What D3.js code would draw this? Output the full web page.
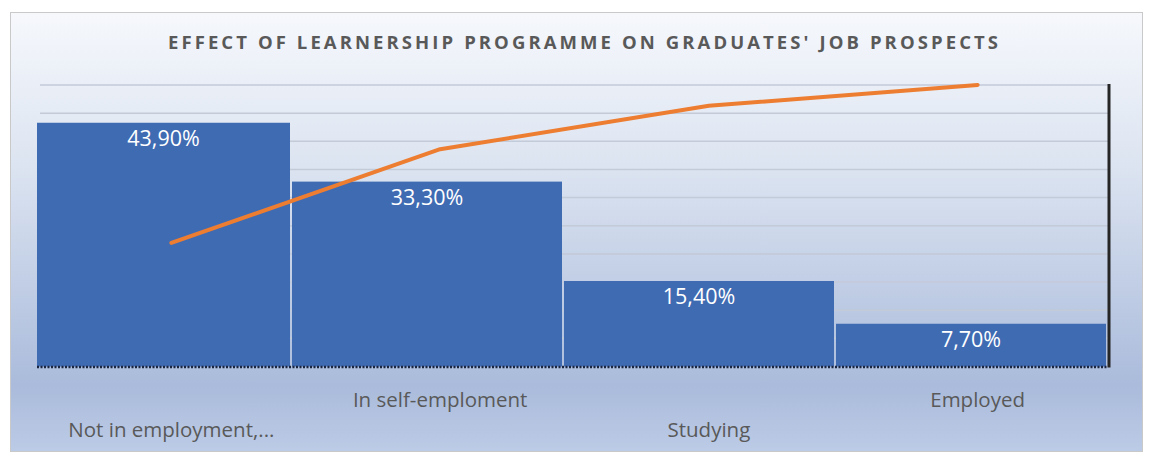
<!DOCTYPE html>
<html>
<head>
<meta charset="utf-8">
<script src="https://cdn.jsdelivr.net/npm/d3@7"></script>
<style>
  html, body { margin: 0; padding: 0; background: #fff; }
  svg { display: block; }
</style>
</head>
<body>
<div id="chart"></div>
<script>
// Data
const categories = ["Not in employment,...", "In self-emploment", "Studying", "Employed"];
const shares = [43.9, 33.3, 15.4, 7.7];
const shareLabels = ["43,90%", "33,30%", "15,40%", "7,70%"];
const cumulative = [43.9, 77.2, 92.6, 100];
const gridTicks = [0, 10, 20, 30, 40, 50, 60, 70, 80, 90, 100];
const title = "EFFECT OF LEARNERSHIP PROGRAMME ON GRADUATES' JOB PROSPECTS";

const width = 1153, height = 454;
const plotLeft = 37, plotRight = 1108, plotTop = 85, plotBottom = 366.5;

const svg = d3.select("#chart")
    .append("svg")
    .attr("width", width)
    .attr("height", height);

// Background gradient
const defs = svg.append("defs");
const grad = defs.append("linearGradient")
    .attr("id", "bg")
    .attr("x1", 0).attr("y1", 0).attr("x2", 0).attr("y2", 1);
grad.append("stop").attr("offset", "0%").attr("stop-color", "#f6f8fc");
grad.append("stop").attr("offset", "35%").attr("stop-color", "#dce4f1");
grad.append("stop").attr("offset", "85%").attr("stop-color", "#aabbdb");
grad.append("stop").attr("offset", "100%").attr("stop-color", "#bccbe6");

defs.append("clipPath").attr("id", "plotClip")
    .append("rect")
    .attr("x", plotLeft).attr("y", 0)
    .attr("width", plotRight - plotLeft).attr("height", height);

svg.append("rect")
    .attr("x", 10.5).attr("y", 12.5)
    .attr("width", 1132).attr("height", 439)
    .attr("fill", "url(#bg)")
    .attr("stroke", "#c9c9c9");

// Scales
const xBar = d3.scaleBand()
    .domain(categories)
    .range([20, 1106])
    .paddingInner(2 / 272);

const xLine = d3.scaleBand()
    .domain(categories)
    .range([37, 1112]);

const yBar = d3.scaleLinear().domain([0, 50.7]).range([plotBottom, plotTop]);
const yCum = d3.scaleLinear().domain([0, 100]).range([plotBottom, plotTop]);

// Title
svg.append("text")
    .attr("x", 583)
    .attr("y", 49)
    .attr("text-anchor", "middle")
    .attr("textLength", 830)
    .attr("lengthAdjust", "spacing")
    .style("font-family", "'Open Sans', sans-serif")
    .style("font-weight", "bold")
    .style("font-size", "18.5px")
    .attr("fill", "#595959")
    .text(title);

// Gridlines (secondary axis 0-100%)
svg.append("g")
    .selectAll("line")
    .data(gridTicks.slice(1))
    .enter()
    .append("line")
    .attr("x1", 40)
    .attr("x2", plotRight)
    .attr("y1", d => yCum(d))
    .attr("y2", d => yCum(d))
    .attr("stroke", "#c3cad8")
    .attr("stroke-width", 1.5);

// Bars
const bars = svg.append("g").attr("clip-path", "url(#plotClip)");
bars.selectAll("rect")
    .data(shares)
    .enter()
    .append("rect")
    .attr("x", (d, i) => xBar(categories[i]))
    .attr("y", d => yBar(d))
    .attr("width", xBar.bandwidth())
    .attr("height", d => plotBottom - yBar(d))
    .attr("fill", "#3f6bb3");

// Bar labels
svg.append("g")
    .selectAll("text")
    .data(shares)
    .enter()
    .append("text")
    .attr("x", (d, i) => {
        const x0 = Math.max(xBar(categories[i]), plotLeft);
        const x1 = xBar(categories[i]) + xBar.bandwidth();
        return (x0 + x1) / 2;
    })
    .attr("y", d => yBar(d) + 23)
    .attr("text-anchor", "middle")
    .style("font-family", "'Open Sans', sans-serif")
    .style("font-size", "21.5px")
    .attr("fill", "#ffffff")
    .text((d, i) => shareLabels[i]);

// Dotted baseline
svg.append("line")
    .attr("x1", plotLeft).attr("x2", plotRight)
    .attr("y1", plotBottom + 0.5).attr("y2", plotBottom + 0.5)
    .attr("stroke", "#1a2540")
    .attr("stroke-width", 2.5)
    .attr("stroke-dasharray", "2,1.5");

// Right axis line
svg.append("line")
    .attr("x1", 1109).attr("x2", 1109)
    .attr("y1", plotTop - 1).attr("y2", plotBottom + 1)
    .attr("stroke", "#262626")
    .attr("stroke-width", 3);

// Cumulative line
const line = d3.line()
    .x((d, i) => xLine(categories[i]) + xLine.bandwidth() / 2)
    .y(d => yCum(d));

svg.append("path")
    .datum(cumulative)
    .attr("d", line)
    .attr("fill", "none")
    .attr("stroke", "#ed7d31")
    .attr("stroke-width", 4)
    .attr("stroke-linecap", "round")
    .attr("stroke-linejoin", "round");

// Category labels (staggered)
svg.append("g")
    .selectAll("text")
    .data(categories)
    .enter()
    .append("text")
    .attr("x", d => xLine(d) + xLine.bandwidth() / 2)
    .attr("y", (d, i) => i % 2 === 0 ? 437 : 407)
    .attr("text-anchor", "middle")
    .style("font-family", "'Open Sans', sans-serif")
    .style("font-size", "20.5px")
    .attr("fill", "#595959")
    .text(d => d);
</script>
</body>
</html>
